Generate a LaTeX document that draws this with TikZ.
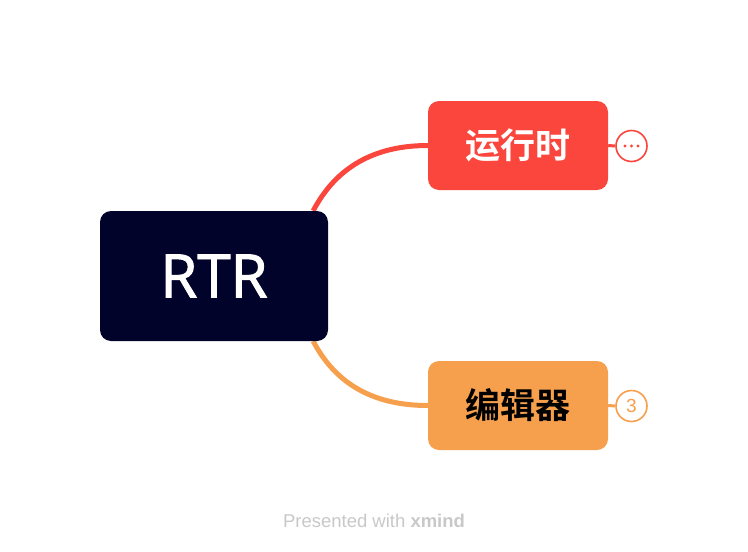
\documentclass[tikz,border=0pt]{standalone}
\usepackage{fontspec}
\setmainfont{Liberation Sans}
\newfontfamily\rtrfont{Open Sans}[FakeBold=1.6]
\newfontfamily\cjkfont{Noto Sans CJK SC}[BoldFont={* Bold}]
\usetikzlibrary{backgrounds}
\definecolor{rootbg}{HTML}{02032A}
\definecolor{redc}{HTML}{FA463C}
\definecolor{orangec}{HTML}{F6A04D}
\definecolor{footgray}{HTML}{C8C8C8}
\tikzset{
  topicbox/.style={rectangle, rounded corners=11pt, minimum width=180pt, minimum height=89pt, inner sep=0pt},
  rootbox/.style={rectangle, rounded corners=11pt, fill=rootbg, minimum width=228pt, minimum height=130pt, inner sep=0pt, text=white, font=\rtrfont\fontsize{60}{60}\selectfont},
  branch/.style={line width=5pt},
  foldcircle/.style={circle, draw, line width=1.6pt, fill=white, minimum size=31pt, inner sep=0pt},
  foldline/.style={line width=3pt}
}
\begin{document}
\begin{tikzpicture}[x=1pt, y=-1pt]
\useasboundingbox (0,0) rectangle (748,552);
\node[rootbox] (root) at (214,276) {RTR};
\node[topicbox, fill=redc, text=white, font=\cjkfont\bfseries\fontsize{35}{35}\selectfont] (n1) at (518,145.5) {运行时};
\node[topicbox, fill=orangec, text=black, font=\cjkfont\bfseries\fontsize{35}{35}\selectfont] (n2) at (518,405.5) {编辑器};
\node[foldcircle, draw=redc] (c1) at (631.5,146) {};
\node[foldcircle, draw=orangec, text=orangec, font=\fontsize{19}{19}\selectfont] (c2) at (631.5,406) {3};
\foreach \dx in {-6.5,0,6.5} \fill[redc] ([xshift=\dx pt]c1.center) circle (1.7pt);
\begin{scope}[on background layer]
\coordinate (r1) at ([xshift=-15pt]root.north east);
\coordinate (r2) at ([xshift=-15pt]root.south east);
\draw[branch, redc] (r1) .. controls +(20,-38) and +(-60,0) .. (n1.west);
\draw[branch, orangec] (r2) .. controls +(20,38) and +(-60,0) .. (n2.west);
\draw[foldline, redc] (n1.east) -- (c1.west);
\draw[foldline, orangec] (n2.east) -- (c2.west);
\end{scope}
\node[text=footgray, font=\fontsize{18.5}{18.5}\selectfont] (foot) at (374,521) {Presented with \textbf{xmind}};
\end{tikzpicture}
\end{document}
